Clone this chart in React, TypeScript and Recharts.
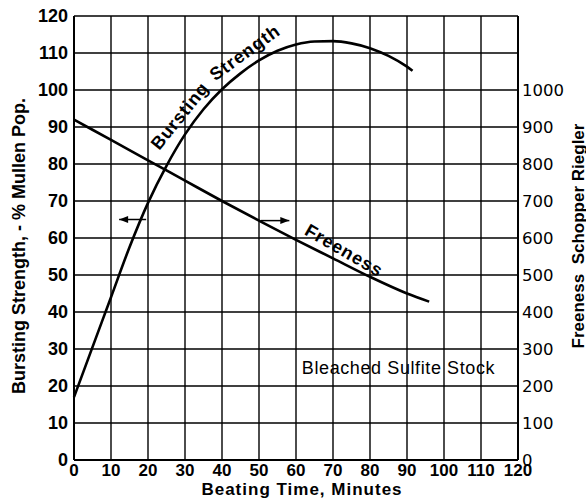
import {
  LineChart,
  Line,
  XAxis,
  YAxis,
  CartesianGrid,
  ReferenceDot,
  ReferenceLine,
} from "recharts"

// beating time (minutes) vs bursting strength (% Mullen pop.)
const burstMinutes = [0, 5, 10, 15, 20, 25, 30, 35, 40, 45, 50, 55, 60, 65, 70, 75, 80, 85, 90, 91.5]
const burstValues = [17, 30.5, 44, 57.5, 69.5, 79.5, 88, 94.8, 100.2, 104.5, 108, 110.6, 112.3, 113.1, 113.2, 112.6, 111.3, 109.2, 106.3, 105.2]

// beating time vs freeness (Schopper Riegler)
const freeMinutes = [0, 10, 20, 30, 40, 50, 60, 70, 80, 90, 96]
const freeValues = [920, 865, 810, 755, 700, 647, 595, 545, 495, 450, 428]

const xTicks = [0, 10, 20, 30, 40, 50, 60, 70, 80, 90, 100, 110, 120]
const leftTicks = [0, 10, 20, 30, 40, 50, 60, 70, 80, 90, 100, 110, 120]
const rightTicks = [0, 100, 200, 300, 400, 500, 600, 700, 800, 900, 1000]

// arrows pointing at the axis each curve belongs to
const leftArrow = { from: 19.5, to: 12.2, level: 65 }
const rightArrow = { from: 50.5, to: 58.2, level: 64.7 }

const burstData = burstMinutes.map((t, i) => ({ t, v: burstValues[i] }))
const freeData = freeMinutes.map((t, i) => ({ t, v: freeValues[i] }))

const SANS = "'Liberation Sans', Arial, sans-serif"
const boldTick = { fill: "#000", fontSize: 18, fontWeight: "bold", fontFamily: SANS }

const Arrow = (p: any) => {
  const dir = p.x2 > p.x1 ? 1 : -1
  return (
    <g>
      <line x1={p.x1} y1={p.y1} x2={p.x2} y2={p.y2} stroke="#000" strokeWidth={1.5} />
      <polygon
        points={`${p.x2},${p.y2} ${p.x2 - dir * 9},${p.y2 - 3.5} ${p.x2 - dir * 9},${p.y2 + 3.5}`}
        fill="#000"
      />
    </g>
  )
}

const rotatedText = (text: string, angle: number, size: number, weight = "bold", spacing = 0) =>
  (p: any) => (
    <text
      x={p.cx}
      y={p.cy}
      transform={`rotate(${angle} ${p.cx} ${p.cy})`}
      textAnchor="middle"
      dominantBaseline="central"
      fontFamily={SANS}
      fontSize={size}
      fontWeight={weight}
      letterSpacing={spacing}
      fill="#000"
    >
      {text}
    </text>
  )

export default function App() {
  return (
    <div>
      <style>{`body{margin:0}`}</style>
      <LineChart width={586} height={499} margin={{ top: 16, right: 0, left: 0, bottom: 0 }}>
        <CartesianGrid stroke="#000" strokeWidth={1.4} yAxisId="left" />
        <XAxis
          dataKey="t"
          type="number"
          domain={[0, 120]}
          ticks={xTicks}
          interval={0}
          height={39}
          tickLine={false}
          tickSize={4}
          tickMargin={0}
          axisLine={{ stroke: "#000", strokeWidth: 2 }}
          tick={{ ...boldTick, fontSize: 17 }}
          label={{
            content: (lp: any) => (
              <text
                x={302}
                y={lp.viewBox.y + 35}
                textAnchor="middle"
                fontFamily={SANS}
                fontSize={17}
                fontWeight="bold"
                letterSpacing={1}
                fill="#000"
              >
                Beating Time, Minutes
              </text>
            ),
          }}
        />
        <XAxis
          xAxisId="top"
          orientation="top"
          type="number"
          domain={[0, 120]}
          height={0}
          tick={false}
          tickLine={false}
          axisLine={{ stroke: "#000", strokeWidth: 2 }}
        />
        <YAxis
          yAxisId="left"
          type="number"
          domain={[0, 120]}
          ticks={leftTicks}
          interval={0}
          width={74}
          tickLine={false}
          tickSize={4}
          tickMargin={2}
          axisLine={{ stroke: "#000", strokeWidth: 2 }}
          tick={boldTick}
          label={{
            content: () => (
              <text
                x={19}
                y={246}
                transform="rotate(-90 19 246)"
                textAnchor="middle"
                dominantBaseline="central"
                fontFamily={SANS}
                fontSize={18}
                fontWeight="bold"
                fill="#000"
              >
                Bursting Strength, - % Mullen Pop.
              </text>
            ),
          }}
        />
        <YAxis
          yAxisId="right"
          orientation="right"
          type="number"
          domain={[0, 1200]}
          ticks={rightTicks}
          interval={0}
          width={68}
          tickLine={false}
          tickSize={2}
          tickMargin={2}
          axisLine={{ stroke: "#000", strokeWidth: 2 }}
          tick={{ fill: "#000", fontSize: 16.5, fontFamily: "'DejaVu Sans', sans-serif" }}
          label={{
            content: () => (
              <text
                x={578}
                y={236}
                transform="rotate(-90 578 236)"
                textAnchor="middle"
                dominantBaseline="central"
                fontFamily={SANS}
                fontSize={17}
                fontWeight="bold"
                fill="#000"
                style={{ whiteSpace: "pre" }}
              >
                {"Freeness  Schopper Riegler"}
              </text>
            ),
          }}
        />
        <Line
          yAxisId="left"
          data={burstData}
          dataKey="v"
          type="monotone"
          stroke="#000"
          strokeWidth={2.6}
          dot={false}
          isAnimationActive={false}
        />
        <Line
          yAxisId="right"
          data={freeData}
          dataKey="v"
          type="monotone"
          stroke="#000"
          strokeWidth={2.6}
          dot={false}
          isAnimationActive={false}
        />
        <ReferenceLine
          yAxisId="left"
          segment={[
            { x: leftArrow.from, y: leftArrow.level },
            { x: leftArrow.to, y: leftArrow.level },
          ]}
          shape={Arrow}
        />
        <ReferenceLine
          yAxisId="left"
          segment={[
            { x: rightArrow.from, y: rightArrow.level },
            { x: rightArrow.to, y: rightArrow.level },
          ]}
          shape={Arrow}
        />
        <ReferenceDot yAxisId="left" x={28.6} y={93} shape={rotatedText("Bursting", -51, 18, "bold", 0.8)} />
        <ReferenceDot yAxisId="left" x={46.2} y={110.1} shape={rotatedText("Strength", -36, 18, "bold", 1)} />
        <ReferenceDot yAxisId="left" x={73} y={56.6} shape={rotatedText("Freeness", 30, 18, "bold", 1)} />
        <ReferenceDot yAxisId="left" x={87.7} y={25} shape={rotatedText("Bleached  Sulfite  Stock", 0, 18, "normal", 0.6)} />
      </LineChart>
    </div>
  )
}
